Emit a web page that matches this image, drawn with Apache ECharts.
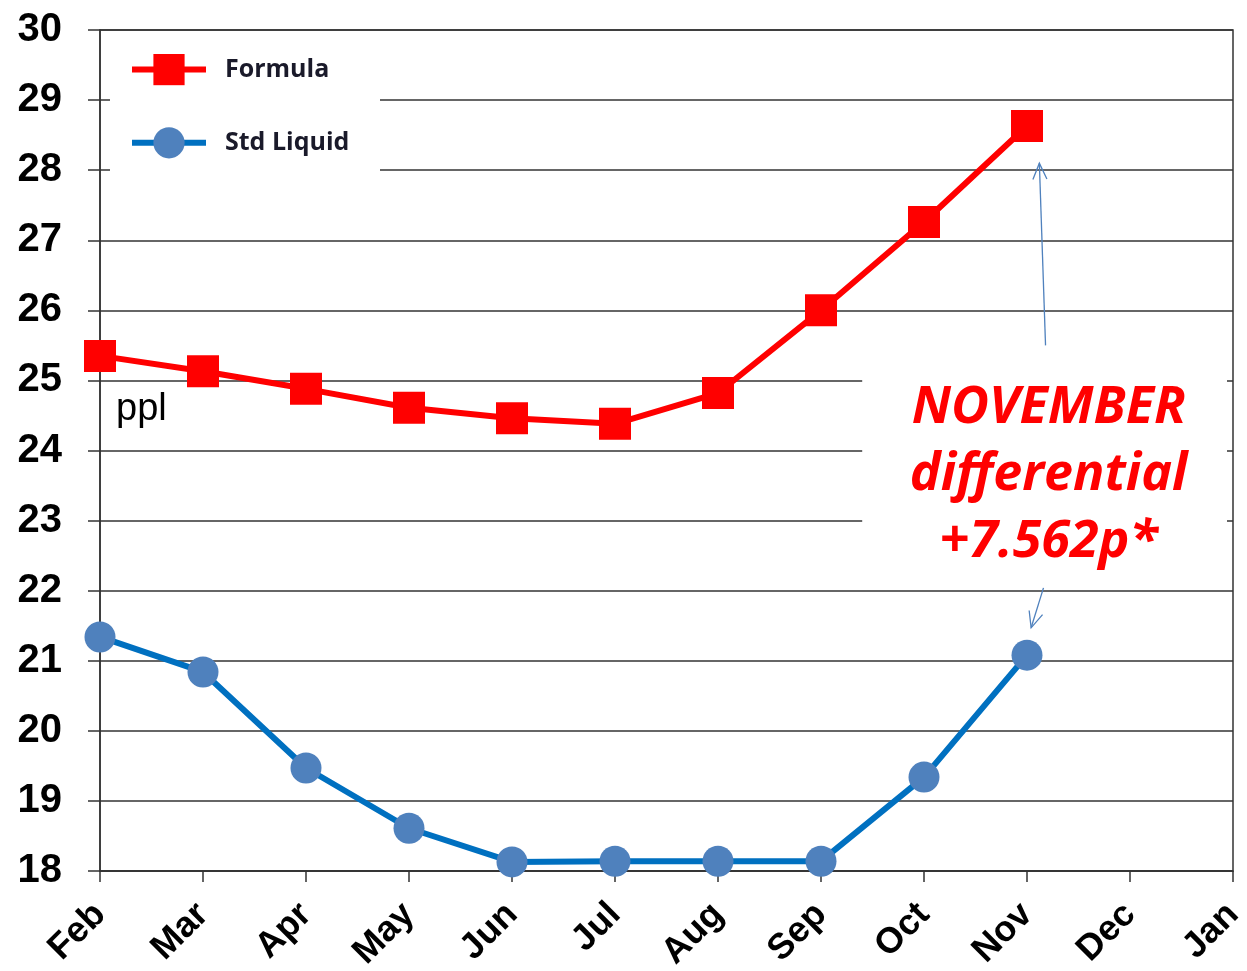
<!DOCTYPE html>
<html>
<head>
<meta charset="utf-8">
<script src="https://cdn.jsdelivr.net/npm/echarts@6/dist/echarts.min.js"></script>
<style>
  html, body { margin: 0; padding: 0; background: #fff; }
  #main { width: 1247px; height: 971px; }
</style>
</head>
<body>
<div id="main"></div>
<script>
const months = ["Feb", "Mar", "Apr", "May", "Jun", "Jul", "Aug", "Sep", "Oct", "Nov", "Dec", "Jan"];
const formula = [25.35, 25.13, 24.88, 24.61, 24.46, 24.38, 24.82, 26.0, 27.26, 28.63];
const stdLiquid = [21.34, 20.84, 19.47, 18.61, 18.13, 18.14, 18.14, 18.14, 19.34, 21.08];
const noteLines = ["NOVEMBER", "differential", "+7.562p*"];

var myChart = echarts.init(document.getElementById("main"));

var option = {
  animation: false,
  grid: {
    left: 100,
    right: 14,
    top: 30,
    bottom: 100,
    outerBoundsMode: "none",
    show: true,
    borderColor: "#333",
    borderWidth: 1.5,
  },
  legend: {
    orient: "vertical",
    left: 129,
    top: 54,
    padding: 0,
    itemWidth: 74,
    itemHeight: 39,
    itemGap: 42,
    z: 10,
    lineStyle: { width: 6 },
    textStyle: {
      fontFamily: "Open Sans",
      fontWeight: "bold",
      fontSize: 25,
      color: "#1a1a2a",
      padding: [0, 0, 0, 14],
    },
    data: ["Formula", "Std Liquid"],
  },
  xAxis: {
    type: "category",
    boundaryGap: false,
    data: months,
    axisLine: { lineStyle: { color: "#333", width: 1.5 } },
    axisTick: { length: 11, lineStyle: { color: "#333", width: 1.5 } },
    axisLabel: {
      rotate: 45,
      margin: 38,
      interval: 0,
      fontFamily: "Liberation Sans",
      fontWeight: "bold",
      fontSize: 36,
      color: "#000",
    },
  },
  yAxis: {
    type: "value",
    min: 18,
    max: 30,
    interval: 1,
    axisLine: { show: true, lineStyle: { color: "#333", width: 1.5 } },
    axisTick: { show: true, length: 12, lineStyle: { color: "#333", width: 1.5 } },
    splitLine: { lineStyle: { color: "#333", width: 1.5 } },
    axisLabel: {
      margin: 38,
      fontFamily: "Liberation Sans",
      fontWeight: "bold",
      fontSize: 40,
      color: "#000",
    },
  },
  series: [
    {
      name: "Formula",
      type: "line",
      data: formula,
      symbol: "rect",
      symbolSize: 32,
      z: 5,
      lineStyle: { color: "#FF0000", width: 6 },
      itemStyle: { color: "#FF0000" },
    },
    {
      name: "Std Liquid",
      type: "line",
      data: stdLiquid,
      symbol: "circle",
      symbolSize: 31,
      z: 5,
      lineStyle: { color: "#0070C0", width: 6 },
      itemStyle: { color: "#4F81BD" },
    },
  ],
};

myChart.setOption(option);

// annotation boxes and arrows, placed from data coordinates
function px(cat, val) {
  return myChart.convertToPixel({ gridIndex: 0 }, [cat, val]);
}
var step = px("Mar", 18)[0] - px("Feb", 18)[0];
var nov = px("Nov", 18)[0];
var top1 = px("Nov", 25.5), tip1 = px("Nov", 28.1);
var top2 = px("Nov", 22.04), tip2 = px("Nov", 21.47);
var a1 = [[nov + 0.18 * step, top1[1]], [nov + 0.12 * step, tip1[1]]];
var a2 = [[nov + 0.16 * step, top2[1]], [nov + 0.04 * step, tip2[1]]];

function arrowHead(from, to) {
  var dx = to[0] - from[0], dy = to[1] - from[1];
  var len = Math.sqrt(dx * dx + dy * dy);
  var ux = dx / len, uy = dy / len;
  var s = 16, w = 7;
  return [
    [to[0] - ux * s - uy * w, to[1] - uy * s + ux * w],
    to,
    [to[0] - ux * s + uy * w, to[1] - uy * s - ux * w],
  ];
}

var lineStyle = { stroke: "#4F81BD", lineWidth: 1.3 };
var boxLeft = px("Sep", 25)[0] + 0.4 * step;
var boxRight = px("Jan", 25)[0] - 6;

myChart.setOption({
  graphic: [
    {
      type: "rect",
      z: 1,
      shape: { x: 110, y: px("Feb", 29.9)[1], width: 270, height: px("Feb", 27.8)[1] - px("Feb", 29.9)[1] },
      style: { fill: "#fff" },
    },
    {
      type: "rect",
      z: 1,
      shape: { x: boxLeft, y: px("Nov", 25.7)[1], width: boxRight - boxLeft, height: px("Nov", 22.07)[1] - px("Nov", 25.7)[1] },
      style: { fill: "#fff" },
    },
    {
      type: "text",
      z: 6,
      x: px("Nov", 18)[0] + 0.21 * step,
      y: px("Nov", 23.65)[1],
      style: {
        text: noteLines.join("\n"),
        fill: "#FF0000",
        font: "italic bold 52px 'Open Sans'",
        lineHeight: 67,
        align: "center",
        verticalAlign: "middle",
      },
    },
    {
      type: "text",
      z: 6,
      x: 116,
      y: px("Feb", 24.58)[1],
      style: {
        text: "ppl",
        fill: "#000",
        font: "38px 'Liberation Sans'",
        verticalAlign: "middle",
      },
    },
    { type: "polyline", z: 6, shape: { points: a1 }, style: lineStyle },
    { type: "polyline", z: 6, shape: { points: arrowHead(a1[0], a1[1]) }, style: Object.assign({ fill: null }, lineStyle) },
    { type: "polyline", z: 6, shape: { points: a2 }, style: lineStyle },
    { type: "polyline", z: 6, shape: { points: arrowHead(a2[0], a2[1]) }, style: Object.assign({ fill: null }, lineStyle) },
  ],
});
</script>
</body>
</html>
